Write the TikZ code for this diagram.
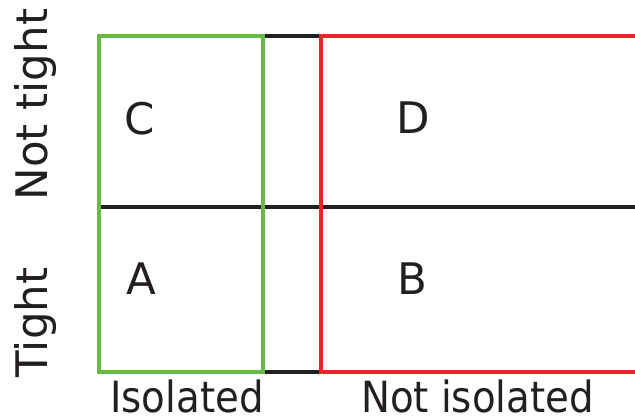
\documentclass[tikz,border=0pt]{standalone}
\usepackage{fontspec}
\setmainfont{DejaVu Sans}
\newfontfamily\condfont{DejaVu Sans Condensed}
\definecolor{lineblack}{HTML}{231F20}
\definecolor{isogreen}{HTML}{66BB46}
\definecolor{nisored}{HTML}{EC2227}
\begin{document}
\begin{tikzpicture}[x=1pt,y=-1pt,
  grid/.style={draw=lineblack,line width=4pt},
  isobox/.style={draw=isogreen,line width=4pt},
  nisobox/.style={draw=nisored,line width=4pt},
  cell/.style={font=\fontsize{43.5}{52}\selectfont,text=lineblack,inner sep=0pt,anchor=base},
  sidelabel/.style={font=\fontsize{43.5}{52}\selectfont,text=lineblack,inner sep=0pt,anchor=base,rotate=90},
  bottomlabel/.style={font=\condfont\fontsize{43}{52}\selectfont,text=lineblack,inner sep=0pt,anchor=base}]
\useasboundingbox (0,0) rectangle (635,419);
\clip (0,0) rectangle (635,419);
% grid
\draw[grid] (99,36) rectangle (660,372);
\draw[grid] (99,207) -- (660,207);
% groups
\draw[isobox] (99,36) rectangle (263,372);
\draw[nisobox] (321,36) rectangle (660,372);
% cells
\node[cell] (C) at (140,134.5) {C};
\node[cell] (D) at (413,134) {D};
\node[cell] (A) at (141,294.5) {A};
\node[cell] (B) at (412.5,294.5) {B};
% axis labels
\node[bottomlabel] (iso) at (187,413) {Isolated};
\node[bottomlabel] (niso) at (477.5,413) {Not isolated};
\node[sidelabel] (nt) at (47,104.5) {Not tight};
\node[sidelabel] (t) at (47,322.5) {Tight};
\end{tikzpicture}
\end{document}
